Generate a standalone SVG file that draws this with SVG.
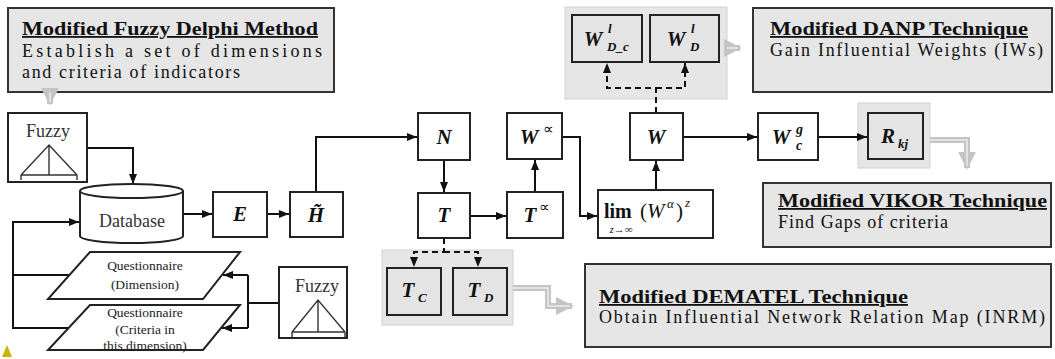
<svg xmlns="http://www.w3.org/2000/svg" width="1055" height="359" viewBox="0 0 1055 359">
  <style>
    .bg{fill:#ffffff}
    .node{fill:#ffffff;stroke:#222;stroke-width:2}
    .gnode{fill:#e4e4e4;stroke:#222;stroke-width:2}
    .grp{fill:#e6e6e6;stroke:#d2d2d2;stroke-width:1}
    .panel{fill:#e6e6e6;stroke:#333;stroke-width:2}
    .thin{fill:none;stroke:#333;stroke-width:1.4}
    .edge{fill:none;stroke:#111;stroke-width:2}
    .dash{fill:none;stroke:#111;stroke-width:2;stroke-dasharray:6 4}
    .gray{fill:none;stroke:#c4c4c4;stroke-width:6}
    .grayin{fill:none;stroke:#e2e2e2;stroke-width:2}
    text{font-family:"Liberation Serif","Times New Roman",serif}
    .ttl{font-size:18px;font-weight:bold;fill:#111;text-decoration:underline}
    .body{font-size:18px;fill:#111}
    .small{font-size:13.5px;fill:#222}
    .lbl{font-size:18px;fill:#333}
    .m{font-size:21px;font-weight:bold;font-style:italic;fill:#111}
    .sup{font-size:13px}
  </style>
  <defs>
    <marker id="ah" viewBox="0 0 10 10" refX="10" refY="5" markerWidth="10" markerHeight="10" markerUnits="userSpaceOnUse" orient="auto">
      <path d="M0,1 L10,5 L0,9 z" fill="#111"/>
    </marker>
    <marker id="gah" viewBox="0 0 10 10" refX="9" refY="5" markerWidth="18" markerHeight="18" markerUnits="userSpaceOnUse" orient="auto">
      <path d="M0,0 L10,5 L0,10 z" fill="#c4c4c4"/>
    </marker>
  </defs>

  <rect class="bg" x="0" y="0" width="1055" height="359"/>

  <!-- method panels -->
  <g id="panel-delphi">
    <rect class="panel" x="8" y="8" width="326" height="84"/>
    <text class="ttl" x="22" y="35" textLength="296" lengthAdjust="spacingAndGlyphs">Modified Fuzzy Delphi Method</text>
    <text class="body" x="22" y="57" textLength="300" lengthAdjust="spacing">Establish a set of  dimensions</text>
    <text class="body" x="22" y="78" textLength="218" lengthAdjust="spacing">and criteria  of indicators</text>
  </g>
  <g id="panel-danp">
    <rect class="panel" x="753" y="8" width="299" height="84"/>
    <text class="ttl" x="770" y="35" textLength="258" lengthAdjust="spacingAndGlyphs">Modified  DANP Technique</text>
    <text class="body" x="770" y="56" textLength="273" lengthAdjust="spacing">Gain Influential  Weights (IWs)</text>
  </g>
  <g id="panel-vikor">
    <rect class="panel" x="763" y="183" width="288" height="64"/>
    <text class="ttl" x="778" y="207" textLength="269" lengthAdjust="spacingAndGlyphs">Modified VIKOR Technique</text>
    <text class="body" x="778" y="228" textLength="170" lengthAdjust="spacing">Find Gaps of criteria</text>
  </g>
  <g id="panel-dematel">
    <rect class="panel" x="585" y="264" width="466" height="83"/>
    <text class="ttl" x="599" y="303" textLength="309" lengthAdjust="spacingAndGlyphs">Modified  DEMATEL Technique</text>
    <text class="body" x="599" y="323" textLength="446" lengthAdjust="spacing">Obtain Influential  Network Relation Map (INRM)</text>
  </g>

  <!-- shaded sub-groups -->
  <rect class="grp" x="565" y="7" width="162" height="92"/>
  <rect class="grp" x="382" y="250" width="131" height="75"/>
  <rect class="grp" x="858" y="103" width="72" height="65"/>

  <!-- connectors -->
  <g id="connectors">
    <path class="edge" d="M87 148 H133 V184" marker-end="url(#ah)"/>
    <path class="edge" d="M183 214 H212" marker-end="url(#ah)"/>
    <path class="edge" d="M267 214 H289" marker-end="url(#ah)"/>
    <path class="edge" d="M316 192 V137 H417" marker-end="url(#ah)"/>
    <path class="edge" d="M444 160 V192" marker-end="url(#ah)"/>
    <path class="edge" d="M470 216 H506" marker-end="url(#ah)"/>
    <path class="edge" d="M535 192 V160" marker-end="url(#ah)"/>
    <path class="edge" d="M562 137 H580 V216 H597" marker-end="url(#ah)"/>
    <path class="edge" d="M656 190 V161" marker-end="url(#ah)"/>
    <path class="edge" d="M683 137 H757" marker-end="url(#ah)"/>
    <path class="edge" d="M818 137 H867" marker-end="url(#ah)"/>
    <!-- questionnaire feedback into the database -->
    <path class="edge" d="M69 275 H13 V222 H79" marker-end="url(#ah)"/>
    <path class="edge" d="M68 328 H13 V275"/>
    <!-- fuzzy scale into the questionnaires -->
    <path class="edge" d="M279 303 H248"/>
    <path class="edge" d="M248 275 V328"/>
    <path class="edge" d="M248 275 H223" marker-end="url(#ah)"/>
    <path class="edge" d="M248 328 H222" marker-end="url(#ah)"/>
    <!-- dashed splits -->
    <path class="dash" d="M444 238 V252 H414 V267" marker-end="url(#ah)"/>
    <path class="dash" d="M444 252 H478 V267" marker-end="url(#ah)"/>
    <path class="dash" d="M656 113 V88 H607 V63" marker-end="url(#ah)"/>
    <path class="dash" d="M656 88 H685 V63" marker-end="url(#ah)"/>
    <!-- light flow arrows toward the method panels -->
    <path class="gray" d="M50 92 V104" marker-end="url(#gah)"/>
    <path class="gray" d="M727 48 H740" marker-end="url(#gah)"/>
    <path class="gray" d="M513 288 H548 V306 H572" marker-end="url(#gah)"/>
    <path class="gray" d="M930 140 H967 V168" marker-end="url(#gah)"/>
    <path class="grayin" d="M50 92 V102 M727 48 H738 M513 288 H548 V306 H570 M930 140 H967 V166"/>
  </g>

  <!-- input side -->
  <g id="fuzzy-top">
    <rect class="node" x="8" y="113" width="79" height="69"/>
    <text class="lbl" x="48" y="137" text-anchor="middle">Fuzzy</text>
    <path class="thin" d="M21 175 L49 145 L77 175 M49 145 V175 M21 175 H77 M21 175 V180 M77 175 V180"/>
  </g>
  <g id="database">
    <path class="node" d="M80 191 A51.5 7 0 0 1 183 191 V236 A51.5 7 0 0 1 80 236 Z"/>
    <path class="node" fill="none" d="M80 191 A51.5 7 0 0 0 183 191"/>
    <text class="lbl" x="132" y="227" text-anchor="middle">Database</text>
  </g>
  <g id="questionnaire-dim">
    <polygon class="node" points="90,252 240,252 203,299 48,299"/>
    <text class="small" x="145" y="270" text-anchor="middle">Questionnaire</text>
    <text class="small" x="145" y="289" text-anchor="middle">(Dimension)</text>
  </g>
  <g id="questionnaire-crit">
    <polygon class="node" points="90,305 240,305 203,350 48,350"/>
    <text class="small" x="145" y="317" text-anchor="middle">Questionnaire</text>
    <text class="small" x="145" y="334" text-anchor="middle">(Criteria in</text>
    <text class="small" x="145" y="350" text-anchor="middle">this dimension)</text>
  </g>
  <g id="fuzzy-bottom">
    <rect class="node" x="279" y="267" width="68" height="71"/>
    <text class="lbl" x="317" y="292" text-anchor="middle">Fuzzy</text>
    <path class="thin" d="M292 332 L318 300 L345 332 M318 300 V332 M292 332 H345 M292 332 V337 M345 332 V337"/>
  </g>

  <!-- matrix steps -->
  <g id="E">
    <rect class="node" x="213" y="192" width="54" height="45"/>
    <text class="m" x="240" y="221" text-anchor="middle">E</text>
  </g>
  <g id="H">
    <rect class="node" x="290" y="192" width="53" height="45"/>
    <text class="m" x="316" y="222" text-anchor="middle">H&#771;</text>
  </g>
  <g id="N">
    <rect class="node" x="418" y="113" width="52" height="47"/>
    <text class="m" x="444" y="144" text-anchor="middle">N</text>
  </g>
  <g id="T">
    <rect class="node" x="418" y="193" width="52" height="45"/>
    <text class="m" x="444" y="222" text-anchor="middle">T</text>
  </g>
  <g id="W-alpha">
    <rect class="node" x="507" y="113" width="55" height="46"/>
    <text class="m" x="529" y="144" text-anchor="middle">W</text>
    <text class="m sup" x="543" y="134" style="font-weight:normal;font-style:normal;font-size:15px">∝</text>
  </g>
  <g id="T-alpha">
    <rect class="node" x="507" y="192" width="56" height="46"/>
    <text class="m" x="530" y="222" text-anchor="middle">T</text>
    <text class="m sup" x="539" y="212" style="font-weight:normal;font-style:normal;font-size:15px">∝</text>
  </g>
  <g id="limit">
    <rect class="node" x="598" y="190" width="115" height="48"/>
    <text class="m" x="604" y="218" style="font-style:normal;font-size:20px">lim</text>
    <text class="m" x="640" y="218" style="font-weight:normal;font-style:normal;font-size:21px">(</text>
    <text class="m" x="647" y="218" style="font-weight:normal">W</text>
    <text class="m sup" x="667" y="208" style="font-weight:normal">α</text>
    <text class="m" x="676" y="218" style="font-weight:normal;font-style:normal;font-size:21px">)</text>
    <text class="m sup" x="685" y="207" style="font-weight:normal">z</text>
    <text class="small" x="621" y="233" text-anchor="middle" style="font-style:italic;font-size:11px">z→∞</text>
  </g>
  <g id="W">
    <rect class="node" x="630" y="113" width="53" height="47"/>
    <text class="m" x="656" y="144" text-anchor="middle">W</text>
  </g>
  <g id="W-cg">
    <rect class="node" x="758" y="113" width="60" height="47"/>
    <text class="m" x="781" y="144" text-anchor="middle">W</text>
    <text class="m sup" x="796" y="134" style="font-size:14px">g</text>
    <text class="m sup" x="796" y="150" style="font-size:14px">c</text>
  </g>
  <g id="R-kj">
    <rect class="gnode" x="868" y="113" width="55" height="46"/>
    <text class="m" x="888" y="143" text-anchor="middle">R</text>
    <text class="m sup" x="898" y="148">kj</text>
  </g>
  <g id="T-C">
    <rect class="gnode" x="387" y="268" width="54" height="47"/>
    <text class="m" x="408" y="297" text-anchor="middle">T</text>
    <text class="m sup" x="418" y="302">C</text>
  </g>
  <g id="T-D">
    <rect class="gnode" x="453" y="268" width="54" height="47"/>
    <text class="m" x="474" y="297" text-anchor="middle">T</text>
    <text class="m sup" x="484" y="302">D</text>
  </g>
  <g id="W-Dc">
    <rect class="gnode" x="572" y="15" width="70" height="47"/>
    <text class="m" x="593" y="46" text-anchor="middle">W</text>
    <text class="m sup" x="608" y="33">l</text>
    <text class="m sup" x="607" y="51">D_c</text>
  </g>
  <g id="W-D">
    <rect class="gnode" x="650" y="15" width="69" height="47"/>
    <text class="m" x="676" y="46" text-anchor="middle">W</text>
    <text class="m sup" x="691" y="33">l</text>
    <text class="m sup" x="690" y="51">D</text>
  </g>

  <!-- corner mark -->
  <polygon points="2,357 7,345 12,357" fill="#c9b400"/>
</svg>
